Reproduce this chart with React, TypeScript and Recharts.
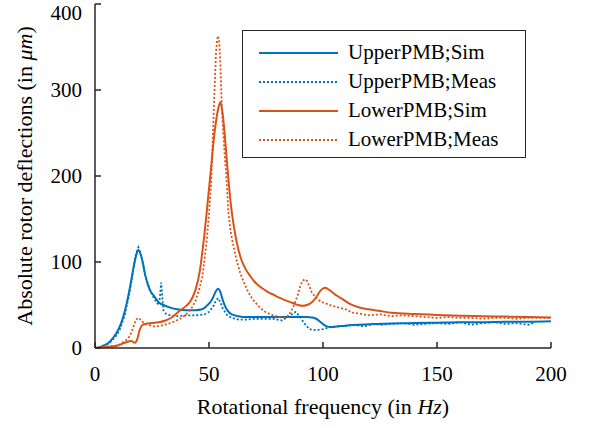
import React from 'react';
import { LineChart, Line, XAxis, YAxis, Legend, Label } from 'recharts';

const freqTicks = [0, 50, 100, 150, 200];
const deflTicks = [0, 100, 200, 300, 400];

const upperSimFreq = [0,2,4,6,8,10,12,14,15,16,17,18,19,20,21,22,24,26,28,30,33,36,40,44,47,49,51,52,53,54,55,56,57,58,60,63,66,70,75,80,85,90,93,95,97,99,101,103,106,110,120,130,140,150,160,170,180,190,200];
const upperSimVal = [0,1,3,6,12,20,33,53,66,80,95,107,114,109,99,85,68,60,53,50,47,45,44,44,45,49,55,60,66,69,65,56,49,44,39,37,36,36,36,36,36,36,36,35.5,34,30,26,24.5,25,26,27.5,28.5,29,29.5,30,30,30.5,30.5,31];

const upperMeasFreq = [0,3,6,9,11,13,15,16,17,18,19,20,21,22,24,26,27,28,28.5,29,29.5,30,31,33,36,40,44,48,50,52,53,54,55,56,58,60,63,66,70,74,78,82,85,88,90,92,94,96,98,100,103,106,110,114,118,122,126,130,135,140,145,150,155,160,165,170,175,180,185,190,193];
const upperMeasVal = [0,2,5,13,22,38,62,78,95,110,117,110,98,85,68,57,53,50,60,76,60,44,40,38,37,38,38,39,42,49,55,58,53,46,38,35,33,33,34,34,34,32,37,42,36,28,22,21,21,22,24,25,26,27,25,28,27,28,29,27,28,29,28,30,27,29,30,28,29,27,30,29];

const lowerSimFreq = [0,4,8,10,12,14,16,17.5,18.5,19.5,20.5,22,25,28,31,34,37,40,42,44,46,47,48,49,50,51,52,53,54,55,56,57,58,59,60,61,62,64,66,68,70,72,75,79,83,87,89,91,93,95,97,99,101,103,106,109,112,116,120,125,130,140,150,160,170,180,190,200];
const lowerSimVal = [0,1,2,3,5,7,8,6,10,20,26,28,29,30,32,36,43,49,55,67,90,110,132,158,185,212,240,262,278,286,272,245,212,182,158,140,125,104,92,84,77,72,66.5,61,56,52,50,49,50,53,59,67,70,67,61,56,51,47,45,43,41,39.5,38.5,37.5,37,36.5,36,35.5];

const lowerMeasFreq = [0,4,8,10,12,14,15,16,17,18,19,20,21,23,26,29,32,35,38,40,42,44,46,47,48,49,50,51,52,53,53.5,54,54.5,55,55.5,56,57,57.7,58.5,59.5,60.7,62,63.6,65,67.2,69,71.6,74,77,79,81,83,85,87,89,90,91,92,93,94,95,97,99,101,104,107,110,113,116,120,125,130,135,140,145,150,155,160,165,170,175,180,185,190,195,200];
const lowerMeasVal = [0,1,2,3,6,10,13,18,26,33,35,33,30,27,25,26,28,31,35,39,45,54,71,82,102,125,155,195,270,340,358,363,355,330,290,260,220,196,158,135,119,103,88,78,65,57,49,43,39,37.5,36,35,38,48,62,72,78,80,78,72,65,58,54,52,49,47,45,41,40,38,39,37,38,37,36,35,36,35,35,34,35,35,34,35,35,35];

const seriesNames = ['UpperPMB;Sim', 'UpperPMB;Meas', 'LowerPMB;Sim', 'LowerPMB;Meas'];
const BLUE = '#0072BD';
const ORANGE = '#D95319';
const AXIS = '#262626';
const FONT = '"Liberation Serif", "Times New Roman", serif';

const zip = (xs: number[], ys: number[]) => xs.map((x, i) => ({ x, y: ys[i] }));

const series = [
  { name: seriesNames[0], data: zip(upperSimFreq, upperSimVal), color: BLUE, dash: undefined as string | undefined, type: 'monotone' },
  { name: seriesNames[1], data: zip(upperMeasFreq, upperMeasVal), color: BLUE, dash: '2 2', type: 'linear' },
  { name: seriesNames[2], data: zip(lowerSimFreq, lowerSimVal), color: ORANGE, dash: undefined, type: 'monotone' },
  { name: seriesNames[3], data: zip(lowerMeasFreq, lowerMeasVal), color: ORANGE, dash: '2 2', type: 'linear' },
];

const renderLegend = () => (
  <div
    style={{
      border: `1.5px solid ${AXIS}`,
      background: '#fff',
      boxSizing: 'border-box',
      width: 284,
      height: 128,
      paddingTop: 7,
      fontFamily: FONT,
      fontSize: 21,
      color: '#000',
    }}
  >
    {series.map((s) => (
      <div key={s.name} style={{ height: 29, display: 'flex', alignItems: 'center' }}>
        <svg width={95} height={10} style={{ marginLeft: 0 }}>
          <line x1={16} x2={95} y1={5} y2={5} stroke={s.color} strokeWidth={2} strokeDasharray={s.dash} />
        </svg>
        <span style={{ marginLeft: 10, lineHeight: '29px' }}>{s.name}</span>
      </div>
    ))}
  </div>
);

const YLabel = (props: any) => {
  const vb = props.viewBox || {};
  const x = vb.x + 32;
  const y = vb.y + vb.height / 2;
  return (
    <text x={x} y={y} transform={`rotate(-90, ${x}, ${y})`} textAnchor="middle" fontFamily={FONT} fontSize={22} fill="#000">
      Absolute rotor deflections (in <tspan fontStyle="italic">μm</tspan>)
    </text>
  );
};

const XLabel = (props: any) => {
  const vb = props.viewBox || {};
  const x = vb.x + vb.width / 2;
  const y = vb.y + 66;
  return (
    <text x={x} y={y} textAnchor="middle" fontFamily={FONT} fontSize={22} fill="#000">
      Rotational frequency (in <tspan fontStyle="italic">Hz</tspan>)
    </text>
  );
};

const tickStyle = { fontFamily: FONT, fontSize: 21, fill: '#000' };
const axisLineStyle = { stroke: AXIS, strokeWidth: 1.5 };

export default function App() {
  return (
    <div style={{ position: 'absolute', left: 0, top: 0, width: 595, height: 427, background: '#fff' }}>
      <LineChart width={595} height={427} margin={{ top: 4, right: 44, bottom: 0, left: 0 }}>
        <XAxis
          xAxisId="bottom"
          dataKey="x"
          type="number"
          domain={[0, 200]}
          ticks={freqTicks}
          allowDataOverflow
          height={79}
          tickSize={-6}
          tickMargin={24}
          tick={tickStyle}
          axisLine={axisLineStyle}
          tickLine={axisLineStyle}
        >
          <Label content={<XLabel />} />
        </XAxis>
        <XAxis
          xAxisId="top"
          orientation="top"
          dataKey="x"
          type="number"
          domain={[0, 200]}
          ticks={freqTicks}
          allowDataOverflow
          height={0}
          tickSize={-6}
          tickFormatter={() => ''}
          axisLine={axisLineStyle}
          tickLine={axisLineStyle}
        />
        <YAxis
          yAxisId="left"
          type="number"
          domain={[0, 400]}
          ticks={deflTicks}
          allowDataOverflow
          width={95}
          tickSize={-6}
          tickMargin={19}
          tick={tickStyle}
          axisLine={axisLineStyle}
          tickLine={axisLineStyle}
        >
          <Label content={<YLabel />} />
        </YAxis>
        <YAxis
          yAxisId="right"
          orientation="right"
          type="number"
          domain={[0, 400]}
          ticks={deflTicks}
          allowDataOverflow
          width={0}
          tickSize={-6}
          tickFormatter={() => ''}
          axisLine={axisLineStyle}
          tickLine={axisLineStyle}
        />
        {series.map((s) => (
          <Line
            key={s.name}
            xAxisId="bottom"
            yAxisId="left"
            data={s.data}
            dataKey="y"
            name={s.name}
            type={s.type as any}
            stroke={s.color}
            strokeWidth={s.dash ? 1.8 : 2}
            strokeDasharray={s.dash}
            dot={false}
            activeDot={false}
            isAnimationActive={false}
          />
        ))}
        <Legend
          content={renderLegend}
          align="center"
          verticalAlign="middle"
          layout="horizontal"
          wrapperStyle={{ position: 'absolute', left: 242, top: 30, width: 284, height: 128 }}
        />
      </LineChart>
    </div>
  );
}
